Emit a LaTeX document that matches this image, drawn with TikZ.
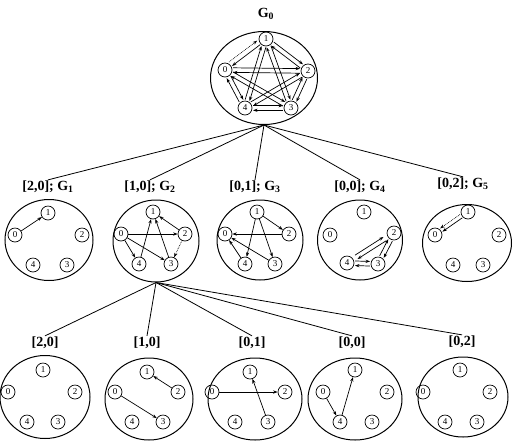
\documentclass[tikz,border=0pt]{standalone}
\usepackage{fontspec}
\setmainfont{Liberation Serif}
\usetikzlibrary{calc,arrows.meta,shapes.geometric}
\tikzset{
 vx/.style={circle,draw,line width=0.7pt,inner sep=0pt,minimum size=14pt,font=\fontsize{9}{10}\selectfont},
 arr/.style={-{Stealth[length=4.5pt,width=3.2pt]},line width=0.7pt},
 dotarr/.style={arr,densely dotted},
 world/.style={ellipse,draw,line width=1pt,inner sep=0pt},
 ttl/.style={font=\bfseries\fontsize{14}{16}\selectfont,inner sep=1pt},
 tree/.style={line width=0.8pt}
}
\newcommand\mkverts[6]{%
 \node[vx] (#1v0) at (#2) {0};
 \node[vx] (#1v1) at (#3) {1};
 \node[vx] (#1v2) at (#4) {2};
 \node[vx] (#1v3) at (#5) {3};
 \node[vx] (#1v4) at (#6) {4};}
\newcommand\twoway[3][8pt]{%
 \draw[arr,shorten <=#1,shorten >=#1] ($(#2)!2.3pt!90:(#3)$) -- ($(#3)!2.3pt!-90:(#2)$);
 \draw[arr,shorten <=#1,shorten >=#1] ($(#3)!2.3pt!90:(#2)$) -- ($(#2)!2.3pt!-90:(#3)$);}
\begin{document}
\begin{tikzpicture}[x=1pt,y=-1pt]
\useasboundingbox (0,0) rectangle (519,440);
% ---------- G0 ----------
\node[world,minimum width=107pt,minimum height=93pt] (E0) at (264,78) {};
\node[ttl] (T0) at (266,14) {G\textsubscript{0}};
\mkverts{a}{225,70}{266,39}{308,71}{291,108}{245,108}
\draw[dotarr,shorten <=8pt,shorten >=8pt] ($(av0)!4pt!90:(av1)$) -- ($(av1)!4pt!-90:(av0)$);
\draw[arr,shorten <=8pt,shorten >=8pt] ($(av1)!1pt!90:(av0)$) -- ($(av0)!1pt!-90:(av1)$);
\twoway{av1}{av2}
\twoway{av0}{av2}
\twoway{av0}{av4}
\twoway{av4}{av3}
\twoway{av3}{av2}
\twoway{av1}{av4}
\twoway{av1}{av3}
\twoway{av0}{av3}
\twoway{av2}{av4}
% ---------- middle row ----------
\node[world,minimum width=88pt,minimum height=81pt] (E1) at (49,240) {};
\node[world,minimum width=86pt,minimum height=82pt] (E2) at (156,241) {};
\node[world,minimum width=86pt,minimum height=80pt] (E3) at (260,240) {};
\node[world,minimum width=85pt,minimum height=80pt] (E4) at (360,240) {};
\node[world,minimum width=89pt,minimum height=77pt] (E5) at (467,243) {};
\node[ttl] (L1) at (48,187) {[2,0]; G\textsubscript{1}};
\node[ttl] (L2) at (150,187) {[1,0]; G\textsubscript{2}};
\node[ttl] (L3) at (255,187) {[0,1]; G\textsubscript{3}};
\node[ttl] (L4) at (360,187) {[0,0]; G\textsubscript{4}};
\node[ttl] (L5) at (463,184) {[0,2]; G\textsubscript{5}};
\foreach \i in {1,...,5} \draw[tree] (E0.south) -- (L\i.north);
\mkverts{b1}{15,235}{48,213}{82,235}{67,265}{33,265}
\mkverts{b2}{121,234}{153,212}{185,234}{171,264}{139,264}
\mkverts{b3}{225,234}{257,212}{289,234}{275,264}{245,264}
\mkverts{b4}{330,235}{364,212}{394,233}{378,264}{347,263}
\mkverts{b5}{435,235}{468,212}{499,235}{483,265}{453,265}
% G1
\draw[arr] (b1v0) -- (b1v1);
% G2
\draw[arr] (b2v0) -- (b2v2);
\draw[arr] (b2v0) -- (b2v4);
\draw[arr] (b2v0) -- (b2v3);
\draw[arr] (b2v4) -- (b2v1);
\draw[arr] (b2v3) -- (b2v1);
\draw[arr] (b2v2) -- (b2v1);
\draw[dotarr] (b2v2) -- (b2v3);
% G3
\draw[arr] (b3v1) -- (b3v2);
\draw[arr] (b3v2) -- (b3v0);
\draw[arr] (b3v1) -- (b3v4);
\draw[arr] (b3v1) -- (b3v3);
\draw[arr] (b3v4) -- (b3v0);
\draw[arr] (b3v3) -- (b3v0);
% G4
\twoway[11pt]{b4v4}{b4v2}
\twoway{b4v2}{b4v3}
\twoway{b4v4}{b4v3}
% G5
\draw[dotarr,shorten <=8pt,shorten >=8pt] ($(b5v1)!2.5pt!-90:(b5v0)$) -- ($(b5v0)!2.5pt!90:(b5v1)$);
\draw[arr,shorten <=8pt,shorten >=8pt] ($(b5v1)!1.5pt!90:(b5v0)$) -- ($(b5v0)!1.5pt!-90:(b5v1)$);
% ---------- bottom row ----------
\node[world,minimum width=90pt,minimum height=83pt] (F1) at (45,397) {};
\node[world,minimum width=88pt,minimum height=82pt] (F2) at (149,399) {};
\node[world,minimum width=94pt,minimum height=82pt] (F3) at (255,399) {};
\node[world,minimum width=94pt,minimum height=82pt] (F4) at (355,399) {};
\node[world,minimum width=90pt,minimum height=80pt] (F5) at (463,397) {};
\node[ttl] (M1) at (45,343) {[2,0]};
\node[ttl] (M2) at (147,343) {[1,0]};
\node[ttl] (M3) at (252,343) {[0,1]};
\node[ttl] (M4) at (352,343) {[0,0]};
\node[ttl] (M5) at (462,342) {[0,2]};
\foreach \i in {1,...,5} \draw[tree] (E2.south) -- (M\i.north);
\mkverts{c1}{8,392}{43,370}{75,392}{58,422}{27,422}
\mkverts{c2}{115,392}{147,372}{178,392}{163,422}{132,422}
\mkverts{c3}{212,392}{250,372}{285,392}{268,422}{235,422}
\mkverts{c4}{323,392}{355,370}{387,392}{372,422}{340,422}
\mkverts{c5}{423,392}{460,370}{490,392}{477,422}{445,422}
\draw[arr] (c2v2) -- (c2v1);
\draw[arr] (c2v0) -- (c2v3);
\draw[arr] (c3v0) -- (c3v2);
\draw[arr] (c3v3) -- (c3v1);
\draw[arr] (c4v0) -- (c4v4);
\draw[arr] (c4v4) -- (c4v1);
\end{tikzpicture}
\end{document}
